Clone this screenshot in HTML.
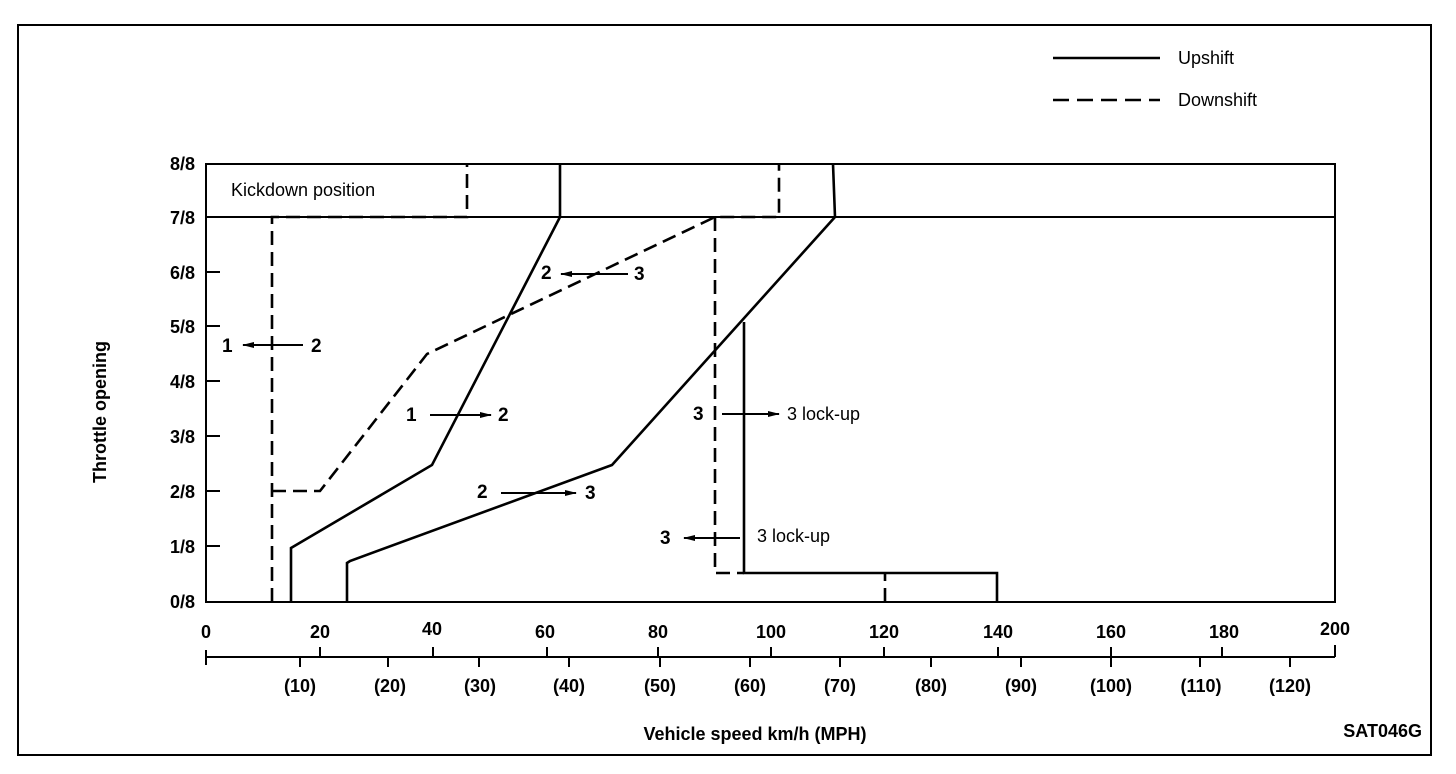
<!DOCTYPE html>
<html><head><meta charset="utf-8"><style>
html,body{margin:0;padding:0;background:#fff;}
svg{display:block;}
text{font-family:"Liberation Sans",sans-serif;fill:#000;}
.t{font-size:18px;font-weight:bold;}
.l{font-size:18px;}
.n{font-size:19px;font-weight:bold;}
</style></head><body>
<svg width="1456" height="774" viewBox="0 0 1456 774" xmlns="http://www.w3.org/2000/svg">
<defs>
<marker id="ah" markerWidth="12" markerHeight="8" refX="11" refY="4" orient="auto" markerUnits="userSpaceOnUse">
<path d="M0,1 L12,4 L0,7 Z" fill="#000"/></marker>
</defs>
<rect x="18" y="25" width="1413" height="730" fill="none" stroke="#000" stroke-width="2"/>
<line x1="1053" y1="58" x2="1160" y2="58" stroke="#000" stroke-width="2.5"/>
<text x="1178" y="64" class="l">Upshift</text>
<line x1="1053" y1="100" x2="1160" y2="100" stroke="#000" stroke-width="2.5" stroke-dasharray="16,8"/>
<text x="1178" y="106" class="l">Downshift</text>
<rect x="206" y="164" width="1129" height="438" fill="none" stroke="#000" stroke-width="2"/>
<line x1="206" y1="217" x2="1335" y2="217" stroke="#000" stroke-width="2"/>
<g stroke="#000" stroke-width="2">
<line x1="206" y1="272" x2="220" y2="272"/><line x1="206" y1="326" x2="220" y2="326"/>
<line x1="206" y1="381" x2="220" y2="381"/><line x1="206" y1="436" x2="220" y2="436"/>
<line x1="206" y1="491" x2="220" y2="491"/><line x1="206" y1="546" x2="220" y2="546"/>
</g>
<g text-anchor="end">
<text x="195" y="170" class="t">8/8</text><text x="195" y="224" class="t">7/8</text>
<text x="195" y="279" class="t">6/8</text><text x="195" y="333" class="t">5/8</text>
<text x="195" y="388" class="t">4/8</text><text x="195" y="443" class="t">3/8</text>
<text x="195" y="498" class="t">2/8</text><text x="195" y="553" class="t">1/8</text>
<text x="195" y="608" class="t">0/8</text>
</g>
<text class="l" font-weight="bold" transform="translate(106,412) rotate(-90)" text-anchor="middle">Throttle opening</text>
<text x="231" y="196" class="l">Kickdown position</text>
<g fill="none" stroke="#000" stroke-width="2.6" stroke-linejoin="miter">
<polyline points="291,602 291,548 432,465 560,217 560,164"/>
<polyline points="347,602 347,563 350,561 612,465 835,217 833,164"/>
<polyline points="744,322 744,573 997,573 997,602"/>
</g>
<g fill="none" stroke="#000" stroke-width="2.6" stroke-dasharray="14,7">
<polyline points="272,602 272,217 467,217 467,164"/>
<polyline points="272,491 320,491 427,354 715,217 779,217 779,164"/>
<polyline points="715,217 715,573 744,573"/>
<polyline points="885,602 885,573"/>
</g>
<g stroke="#000" stroke-width="2" marker-end="url(#ah)">
<line x1="303" y1="345" x2="243" y2="345"/>
<line x1="430" y1="415" x2="491" y2="415"/>
<line x1="628" y1="274" x2="561" y2="274"/>
<line x1="501" y1="493" x2="576" y2="493"/>
<line x1="722" y1="414" x2="779" y2="414"/>
<line x1="740" y1="538" x2="684" y2="538"/>
</g>
<g>
<text x="222" y="352" class="n">1</text><text x="311" y="352" class="n">2</text>
<text x="406" y="421" class="n">1</text><text x="498" y="421" class="n">2</text>
<text x="541" y="279" class="n">2</text><text x="634" y="280" class="n">3</text>
<text x="477" y="498" class="n">2</text><text x="585" y="499" class="n">3</text>
<text x="693" y="420" class="n">3</text><text x="787" y="420" class="l">3 lock-up</text>
<text x="660" y="544" class="n">3</text><text x="757" y="542" class="l">3 lock-up</text>
</g>
<line x1="206" y1="657" x2="1335" y2="657" stroke="#000" stroke-width="2"/>
<g stroke="#000" stroke-width="2">
<line x1="206" y1="650" x2="206" y2="665"/>
<line x1="320" y1="647" x2="320" y2="657"/><line x1="433" y1="647" x2="433" y2="657"/>
<line x1="547" y1="647" x2="547" y2="657"/><line x1="658" y1="647" x2="658" y2="657"/>
<line x1="771" y1="647" x2="771" y2="657"/><line x1="884" y1="647" x2="884" y2="657"/>
<line x1="998" y1="647" x2="998" y2="657"/><line x1="1111" y1="647" x2="1111" y2="667"/>
<line x1="1222" y1="647" x2="1222" y2="657"/><line x1="1335" y1="645" x2="1335" y2="657"/>
<line x1="300" y1="657" x2="300" y2="667"/><line x1="388" y1="657" x2="388" y2="667"/>
<line x1="479" y1="657" x2="479" y2="667"/><line x1="569" y1="657" x2="569" y2="667"/>
<line x1="660" y1="657" x2="660" y2="667"/><line x1="750" y1="657" x2="750" y2="667"/>
<line x1="840" y1="657" x2="840" y2="667"/><line x1="931" y1="657" x2="931" y2="667"/>
<line x1="1021" y1="657" x2="1021" y2="667"/><line x1="1200" y1="657" x2="1200" y2="667"/>
<line x1="1290" y1="657" x2="1290" y2="667"/>
</g>
<g text-anchor="middle">
<text x="206" y="638" class="t">0</text><text x="320" y="638" class="t">20</text>
<text x="432" y="635" class="t">40</text><text x="545" y="638" class="t">60</text>
<text x="658" y="638" class="t">80</text><text x="771" y="638" class="t">100</text>
<text x="884" y="638" class="t">120</text><text x="998" y="638" class="t">140</text>
<text x="1111" y="638" class="t">160</text><text x="1224" y="638" class="t">180</text>
<text x="1335" y="635" class="t">200</text>
<text x="300" y="692" class="t">(10)</text><text x="390" y="692" class="t">(20)</text>
<text x="480" y="692" class="t">(30)</text><text x="569" y="692" class="t">(40)</text>
<text x="660" y="692" class="t">(50)</text><text x="750" y="692" class="t">(60)</text>
<text x="840" y="692" class="t">(70)</text><text x="931" y="692" class="t">(80)</text>
<text x="1021" y="692" class="t">(90)</text><text x="1111" y="692" class="t">(100)</text>
<text x="1201" y="692" class="t">(110)</text><text x="1290" y="692" class="t">(120)</text>
</g>
<text x="755" y="740" class="l" font-weight="bold" text-anchor="middle">Vehicle speed  km/h (MPH)</text>
<text x="1422" y="737" class="l" font-weight="bold" text-anchor="end">SAT046G</text>
</svg>
</body></html>
